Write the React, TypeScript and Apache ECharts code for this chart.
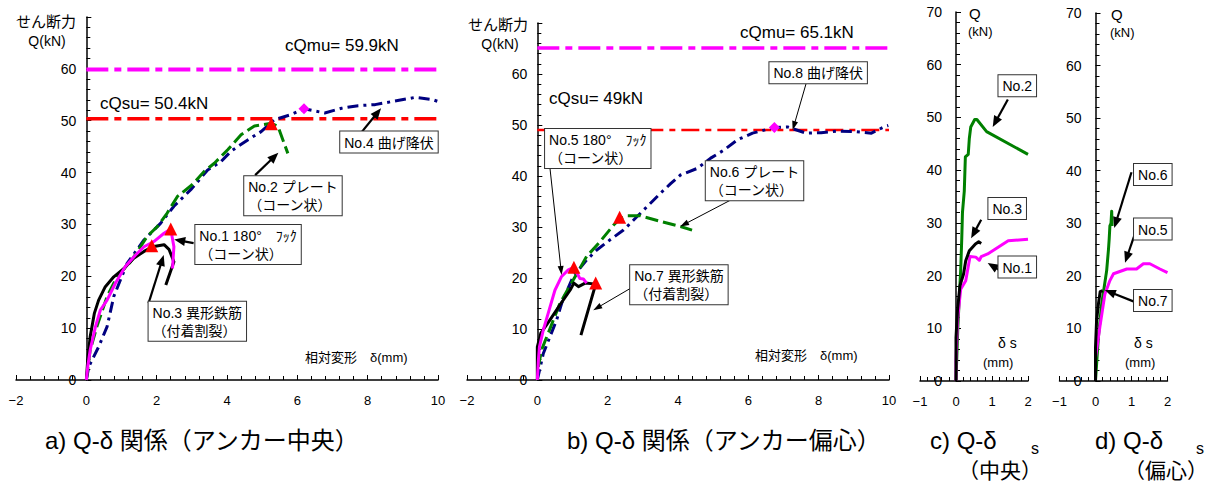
import React, { useEffect, useRef } from "react";
import * as echarts from "echarts";

type Pt = [number, number];

// ---------- a) Q-δ, central anchor (δ mm, Q kN) ----------
const aNo1: Pt[] = [[0,0],[0.04,2.6],[0.11,5.8],[0.26,10.3],[0.4,13.5],[0.59,15.4],[0.83,18.7],[1.11,21.9],[1.4,24.1],[1.64,25.7],[1.92,26.7],[2.21,28.3],[2.4,29.1],[2.49,25.7],[2.45,21.5]];
const aNo2: Pt[] = [[0,0],[0.11,5.8],[0.3,10.3],[0.59,16.1],[0.87,19.9],[1.26,22.8],[1.73,27.7],[2.02,29.6],[2.3,32.2],[2.59,35.4],[3.0,37.6],[3.35,40.2],[3.64,41.8],[4.02,44.4],[4.4,47.3],[4.78,49.0],[5.26,49.5],[5.45,48.9],[5.59,46.3],[5.73,43.7]];
const aNo3: Pt[] = [[0,0],[0.04,3.9],[0.11,8.4],[0.23,12.9],[0.35,15.4],[0.54,18],[0.78,19.9],[1.07,21.5],[1.35,23.5],[1.64,24.8],[1.88,25.7],[2.21,26.1],[2.35,25.2],[2.49,22.8],[2.26,18.3]];
const aNo4: Pt[] = [[0,0],[0.07,2.6],[0.35,6.4],[0.59,10.3],[0.78,16.1],[1.16,22.5],[1.64,27.0],[2.11,30.2],[2.49,33.5],[2.97,36.7],[3.45,40.5],[3.83,42.1],[4.11,44.1],[4.59,46.3],[4.97,47.9],[5.35,50.2],[5.83,51.2],[6.19,52.3],[6.78,51.5],[7.26,52.4],[7.73,52.9],[8.21,53.1],[8.69,53.7],[9.35,54.5],[9.83,54.1],[10.0,53.7]];
const aPeaks: Pt[] = [[1.86,25.9],[2.4,29.1],[5.26,49.4]];
const aYield: Pt[] = [[6.19,52.3]];
const aQmu = 59.9;
const aQsu = 50.4;

// ---------- b) Q-δ, eccentric anchor ----------
const bNo5: Pt[] = [[0,0],[0.03,3.9],[0.06,6.5],[0.17,9.8],[0.31,13.1],[0.5,17.6],[0.69,20.3],[0.88,21.6],[1.04,22.1],[1.21,19.9],[1.31,19.8],[1.4,19.0]];
const bNo6: Pt[] = [[0.03,2.6],[0.12,5.9],[0.31,9.2],[0.64,15.0],[1.02,19.6],[1.4,24.2],[1.78,27.1],[2.17,30.4],[2.36,31.7],[2.55,32.2],[2.93,32.2],[3.5,31.1],[4.07,30.1],[4.4,29.4]];
const bNo7: Pt[] = [[0,0],[0,3.9],[0,6.5],[0.1,9.2],[0.36,11.8],[0.64,14.7],[0.93,17.6],[1.04,19.0],[1.17,18.3],[1.36,19.0],[1.66,18.8],[1.24,8.8]];
const bNo8: Pt[] = [[0,0],[0.17,5.2],[0.36,8.5],[0.55,11.8],[0.69,15],[1.02,20.3],[1.4,23.5],[1.69,25.5],[2.07,27.5],[2.45,29.4],[2.83,32.0],[3.21,34.6],[3.5,36.6],[3.79,38.5],[4.07,40.2],[4.55,41.5],[4.93,43.5],[5.31,45.1],[5.69,47.1],[6.12,48.4],[6.74,49.5],[7.12,49.6],[7.64,48.4],[8.07,48.5],[8.55,48.8],[9.02,48.7],[9.5,48.4],[9.88,49.7],[9.98,49.9]];
const bPeaks: Pt[] = [[1.04,22.1],[1.66,19.0],[2.34,31.9]];
const bYield: Pt[] = [[6.74,49.5]];
const bQmu = 65.1;
const bQsu = 49;

// ---------- c) Q-δs, central ----------
const cNo1: Pt[] = [[0,0],[0,3.8],[0.04,11.4],[0.13,17.4],[0.27,19.0],[0.39,23.6],[0.55,23.5],[0.65,22.9],[0.7,23.6],[0.88,24.1],[1.45,26.6],[2.0,26.9]];
const cNo2: Pt[] = [[0,0],[0.05,10],[0.1,17],[0.13,21],[0.16,27],[0.18,32],[0.23,36],[0.26,42.5],[0.34,43],[0.37,46],[0.41,48.2],[0.52,49.6],[0.58,49.6],[0.85,47.3],[2.0,43]];
const cNo3: Pt[] = [[0,0],[0,8.2],[0.04,13.3],[0.11,18.1],[0.21,20.3],[0.27,22.8],[0.37,24.7],[0.54,26.0],[0.63,26.4],[0.7,26.1]];

// ---------- d) Q-δs, eccentric ----------
const dNo5: Pt[] = [[0,0],[0,4.4],[0.12,10.2],[0.26,16.5],[0.4,19.1],[0.5,20.4],[0.87,21.3],[1.14,21.3],[1.33,22.3],[1.51,22.3],[1.79,21.3],[2.0,20.6]];
const dNo6: Pt[] = [[0,0],[0.08,8.3],[0.17,14.6],[0.24,17.8],[0.31,21],[0.36,25],[0.38,27],[0.4,29.5],[0.43,30],[0.45,32.3],[0.46,29.5]];
const dNo7: Pt[] = [[0,0],[0,6.4],[0.03,11.5],[0.08,14.6],[0.13,17],[0.2,17.2]];

// axis ranges
const abX: Pt = [-2, 10];
const cdX: Pt = [-1, 2];
const qRange: Pt = [0, 70];
// reference lines span δ = 0..10
const refSpan: Pt = [0, 10];

// annotation callouts (data coords of each panel)
type Note = { grid: number; text: string; box: Pt; from: Pt; to: Pt; heavy: boolean };
const notes: Note[] = [
  { grid: 0, text: "No.2 プレート\n（コーン状）", box: [4.49, 39.3], from: [4.8, 39.5], to: [5.46, 43.8], heavy: true },
  { grid: 0, text: "No.4 曲げ降伏", box: [7.22, 47.9], from: [7.84, 47.9], to: [8.38, 52.4], heavy: true },
  { grid: 0, text: "No.1 180°　ﾌｯｸ\n（コーン状）", box: [3.1, 29.9], from: [3.05, 26.4], to: [2.5, 27.1], heavy: true },
  { grid: 0, text: "No.3 異形鉄筋\n（付着割裂）", box: [1.77, 15.1], from: [1.77, 14.8], to: [2.2, 24.1], heavy: true },
  { grid: 1, text: "No.5 180°　ﾌｯｸ\n（コーン状）", box: [0.22, 49.2], from: [0.36, 41.5], to: [0.69, 20.6], heavy: false },
  { grid: 1, text: "No.6 プレート\n（コーン状）", box: [4.79, 42.9], from: [5.53, 35.4], to: [4.06, 30.1], heavy: false },
  { grid: 1, text: "No.8 曲げ降伏", box: [6.6, 62.3], from: [7.65, 58.3], to: [7.26, 49.0], heavy: false },
  { grid: 1, text: "No.7 異形鉄筋\n（付着割裂）", box: [2.64, 22.5], from: [2.73, 18.3], to: [1.59, 13.7], heavy: false },
  { grid: 2, text: "No.2", box: [1.18, 58.0], from: [1.44, 53.4], to: [1.02, 48.2], heavy: true },
  { grid: 2, text: "No.3", box: [0.9, 34.7], from: [0.7, 30.6], to: [0.42, 27.1], heavy: true },
  { grid: 2, text: "No.1", box: [1.18, 23.6], from: [1.19, 21.1], to: [0.88, 22.4], heavy: true },
  { grid: 3, text: "No.6", box: [1.07, 41.3], from: [1.0, 39.7], to: [0.52, 29.1], heavy: true },
  { grid: 3, text: "No.5", box: [1.07, 30.9], from: [1.07, 27.5], to: [0.82, 22.5], heavy: true },
  { grid: 3, text: "No.7", box: [1.07, 17.3], from: [1.07, 15.1], to: [0.26, 17.3], heavy: true },
];

const FONT = "'Liberation Sans', 'Noto Sans CJK JP', sans-serif";

type Lbl = { text: string; x: number; y: number; size: number; align?: string };
const labels: Lbl[] = [
  { text: "せん断力", x: 46, y: 21, size: 15, align: "center" },
  { text: "Q(kN)", x: 47, y: 41, size: 14, align: "center" },
  { text: "cQmu= 59.9kN", x: 285, y: 45, size: 17 },
  { text: "cQsu= 50.4kN", x: 100, y: 103, size: 17 },
  { text: "相対変形　δ(mm)", x: 305, y: 357, size: 13 },
  { text: "せん断力", x: 498, y: 24, size: 15, align: "center" },
  { text: "Q(kN)", x: 500, y: 44, size: 14, align: "center" },
  { text: "cQmu= 65.1kN", x: 740, y: 32, size: 17 },
  { text: "cQsu= 49kN", x: 549, y: 98, size: 17 },
  { text: "相対変形　δ(mm)", x: 755, y: 355, size: 13 },
  { text: "Q", x: 969, y: 13, size: 15 },
  { text: "(kN)", x: 968, y: 31, size: 13 },
  { text: "δ s", x: 998, y: 343, size: 14 },
  { text: "(mm)", x: 983, y: 362, size: 13 },
  { text: "Q", x: 1111, y: 14, size: 15 },
  { text: "(kN)", x: 1110, y: 32, size: 13 },
  { text: "δ s", x: 1134, y: 343, size: 14 },
  { text: "(mm)", x: 1125, y: 362, size: 13 },
  { text: "a) Q-δ 関係（アンカー中央）", x: 45, y: 440, size: 24 },
  { text: "b) Q-δ 関係（アンカー偏心）", x: 567, y: 440, size: 24 },
  { text: "c) Q-δ", x: 930, y: 440, size: 24 },
  { text: "s", x: 1031, y: 448, size: 16 },
  { text: "（中央）", x: 958, y: 470, size: 21 },
  { text: "d) Q-δ", x: 1095, y: 440, size: 24 },
  { text: "s", x: 1196, y: 448, size: 16 },
  { text: "（偏心）", x: 1124, y: 470, size: 21 },
];

type GridBox = { left: number; top: number; width: number; height: number; x: Pt };
const grids: GridBox[] = [
  { left: 16, top: 17, width: 422, height: 363, x: abX },
  { left: 467, top: 23, width: 422, height: 357, x: abX },
  { left: 920, top: 12, width: 108, height: 369, x: cdX },
  { left: 1059.5, top: 13, width: 108, height: 368, x: cdX },
];

const fmtX = (v: number) => (v < 0 ? "−" + Math.abs(v) : String(v));

function xAxis(gi: number, range: Pt, interval: number) {
  return {
    type: "value", gridIndex: gi, min: range[0], max: range[1], interval, position: "bottom",
    axisLine: { show: true, onZero: false, lineStyle: { color: "#000", width: 1.5 } },
    axisTick: { show: true, inside: true, length: 5, lineStyle: { color: "#000", width: 1 } },
    minorTick: { show: true, splitNumber: 5, length: 4, lineStyle: { color: "#000", width: 1 } },
    splitLine: { show: false }, minorSplitLine: { show: false },
    axisLabel: { color: "#000", fontSize: 13, fontFamily: FONT, margin: 14, formatter: fmtX },
  };
}
function yAxis(gi: number, hideTop: boolean, margin: number) {
  const gb = grids[gi];
  // place the Q axis at δ = 0 inside the grid
  const shift = (gb.width * (0 - gb.x[0])) / (gb.x[1] - gb.x[0]);
  return {
    type: "value", gridIndex: gi, min: qRange[0], max: qRange[1], interval: 10, position: "left",
    offset: -shift,
    axisLine: { show: true, onZero: false, lineStyle: { color: "#000", width: 1.5 } },
    axisTick: { show: true, inside: true, length: 5, lineStyle: { color: "#000", width: 1 } },
    minorTick: { show: true, splitNumber: 5, length: 4, lineStyle: { color: "#000", width: 1 } },
    splitLine: { show: false }, minorSplitLine: { show: false },
    axisLabel: {
      color: "#000", fontSize: 14, fontFamily: FONT, margin,
      formatter: (v: number) => (hideTop && v === 70 ? "" : String(v)),
    },
  };
}
function line(gi: number, data: Pt[], color: string, type: any, width = 3, z = 3) {
  return {
    type: "line", xAxisIndex: gi, yAxisIndex: gi, data, symbol: "none", silent: true, z,
    lineStyle: { color, width, type, cap: "butt", join: "round" },
  };
}
function marks(gi: number, data: Pt[], symbol: string, color: string, size: number) {
  return {
    type: "scatter", xAxisIndex: gi, yAxisIndex: gi, data, symbol, symbolSize: size, z: 6, silent: true,
    itemStyle: { color, opacity: 1 },
  };
}
const ref = (v: number): Pt[] => [[refSpan[0], v], [refSpan[1], v]];

function arrow(f: number[], t: number[], heavy: boolean) {
  const w = heavy ? 2.2 : 1;
  const hl = heavy ? 11 : 9;
  const hw = heavy ? 9 : 6;
  const dx = t[0] - f[0], dy = t[1] - f[1];
  const L = Math.hypot(dx, dy) || 1;
  const ux = dx / L, uy = dy / L;
  const bx = t[0] - ux * hl, by = t[1] - uy * hl;
  const px = -uy * hw / 2, py = ux * hw / 2;
  return [
    { type: "line", z: 50, silent: true, shape: { x1: f[0], y1: f[1], x2: bx + ux, y2: by + uy }, style: { stroke: "#000", lineWidth: w } },
    { type: "polygon", z: 50, silent: true, shape: { points: [[t[0], t[1]], [bx + px, by + py], [bx - px, by - py]] }, style: { fill: "#000" } },
  ];
}

export default function App() {
  const ref0 = useRef<HTMLDivElement>(null);
  useEffect(() => {
    document.body.style.margin = "0";
    const chart = echarts.init(ref0.current!, undefined, { renderer: "svg" });
    const dashLong = [13, 5];
    const dashDot = [11, 5, 3, 5];
    const refDash = [22, 6, 7, 6];
    chart.setOption({
      animation: false,
      backgroundColor: "#fff",
      grid: grids.map((g) => ({
        left: g.left, top: g.top, width: g.width, height: g.height,
        containLabel: false, outerBoundsMode: "none",
      })),
      xAxis: [xAxis(0, abX, 2), xAxis(1, abX, 2), xAxis(2, cdX, 1), xAxis(3, cdX, 1)],
      yAxis: [yAxis(0, true, 10), yAxis(1, true, 10), yAxis(2, false, 14), yAxis(3, false, 14)],
      series: [
        line(0, ref(aQmu), "#FF00FF", refDash, 4, 1),
        line(0, ref(aQsu), "#FF0000", refDash, 3.5, 1),
        line(0, aNo4, "#000080", dashDot, 3),
        line(0, aNo2, "#008000", dashLong, 3),
        line(0, aNo3, "#000000", "solid", 3),
        line(0, aNo1, "#FF00FF", "solid", 3),
        marks(0, aPeaks, "triangle", "#FF0000", 13),
        marks(0, aYield, "diamond", "#FF00FF", 11),

        line(1, ref(bQmu), "#FF00FF", refDash, 3.5, 1),
        line(1, ref(bQsu), "#FF0000", [18, 6, 6, 6], 2.5, 1),
        line(1, bNo8, "#000080", dashDot, 3),
        line(1, bNo6, "#008000", dashLong, 3),
        line(1, bNo7, "#000000", "solid", 3),
        line(1, bNo5, "#FF00FF", "solid", 3),
        marks(1, bPeaks, "triangle", "#FF0000", 13),
        marks(1, bYield, "diamond", "#FF00FF", 11),

        line(2, cNo2, "#008000", "solid", 3),
        line(2, cNo1, "#FF00FF", "solid", 3),
        line(2, cNo3, "#000000", "solid", 3),

        line(3, dNo6, "#008000", "solid", 3),
        line(3, dNo5, "#FF00FF", "solid", 3),
        line(3, dNo7, "#000000", "solid", 3),
      ],
    });

    const g: any[] = [];
    notes.forEach((n) => {
      const p = chart.convertToPixel({ gridIndex: n.grid } as any, n.box) as unknown as number[];
      const f = chart.convertToPixel({ gridIndex: n.grid } as any, n.from) as unknown as number[];
      const t = chart.convertToPixel({ gridIndex: n.grid } as any, n.to) as unknown as number[];
      g.push(...arrow(f, t, n.heavy));
      g.push({
        type: "text", x: p[0], y: p[1], z: 60, silent: true,
        style: {
          text: n.text, font: `14px ${FONT}`, fill: "#000", lineHeight: 18,
          align: "left", verticalAlign: "top", textAlign: "left", textVerticalAlign: "top",
          backgroundColor: "#fff", borderColor: "#333", borderWidth: 1, padding: [2, 4, 1, 4],
        },
      });
    });
    labels.forEach((l) => {
      const al = l.align || "left";
      g.push({
        type: "text", x: l.x, y: l.y, z: 60, silent: true,
        style: {
          text: l.text, font: `${l.size}px ${FONT}`, fill: "#000",
          align: al, verticalAlign: "middle", textAlign: al, textVerticalAlign: "middle",
        },
      });
    });
    chart.setOption({ graphic: g });
    return () => chart.dispose();
  }, []);
  return <div ref={ref0} style={{ width: 1218, height: 490 }} />;
}
